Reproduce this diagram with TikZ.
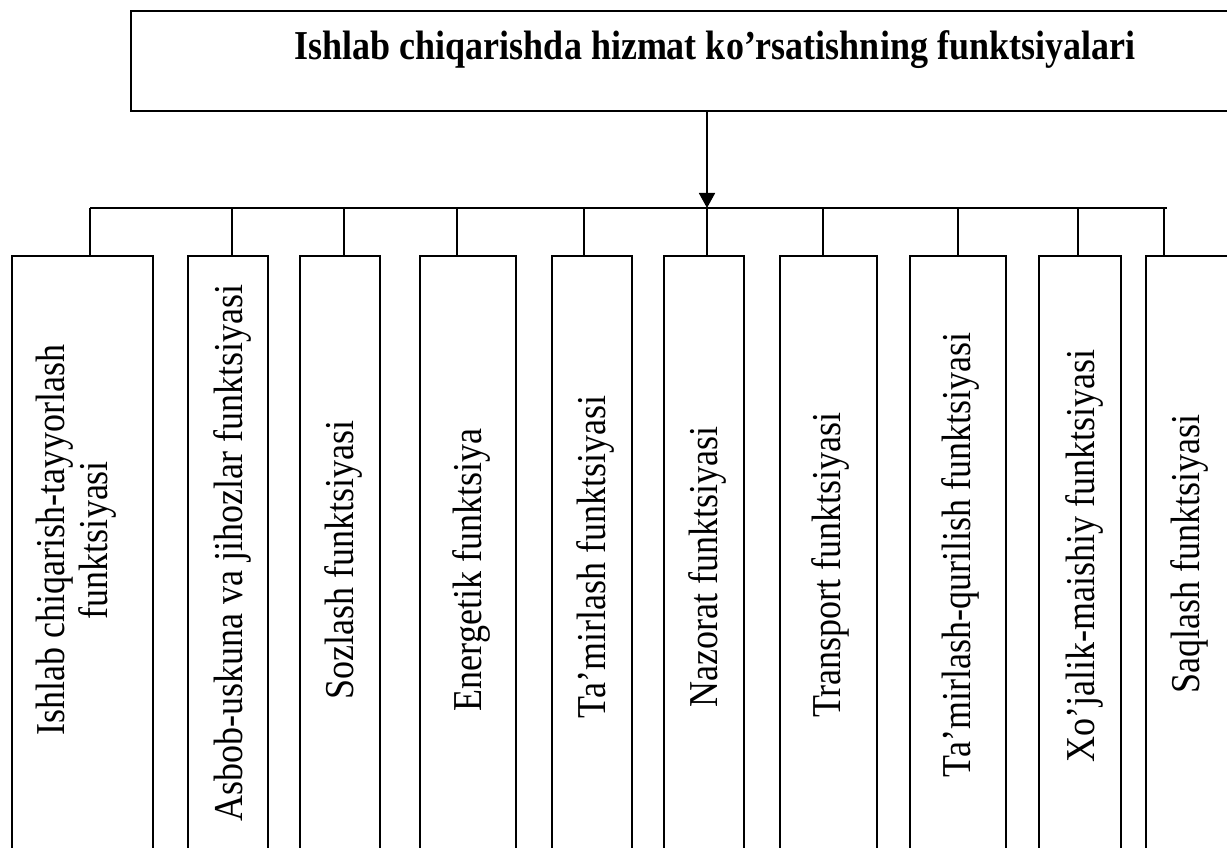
\documentclass[tikz,border=0pt]{standalone}
\usepackage{fontspec}
\usepackage{graphicx}
\setmainfont{Liberation Serif}
\usetikzlibrary{arrows.meta}
% glyphs are set slightly taller than the font's natural shape
\newcommand{\tallbox}[1]{\scalebox{1}[1.14]{#1}}
\begin{document}
\begin{tikzpicture}[x=1pt,y=-1pt,
  line width=1.8pt,
  frame/.style={draw, line width=1.8pt, inner sep=0pt, anchor=north west},
  vlabel/.style={rotate=90, font=\fontsize{36}{38}\selectfont, inner sep=0pt},
  title/.style={font=\fontsize{36}{43}\selectfont\bfseries, inner sep=0pt},
  arr/.style={-{Triangle[length=15pt,width=16pt]}}]
\useasboundingbox (0,0) rectangle (1227,848);
\fill[white] (0,0) rectangle (1227,848);
\clip (0,0) rectangle (1227,848);

% heading box (runs past the right edge)
\node[frame, minimum width=1170pt, minimum height=100pt] (top) at (130,10) {};
\node[title] (ttl) at (715,50) {\tallbox{Ishlab chiqarishda hizmat ko’rsatishning funktsiyalari}};

% distribution bus
\coordinate (busL) at (90,208);
\coordinate (busR) at (1167,208);
\coordinate (busC) at (707,208);
\draw (busL) -- (busR);
\draw[arr] (top.south -| busC) -- (busC);

% function boxes (open at the bottom edge of the sheet)
\foreach \n/\l/\r in {1/11/152, 2/187/267, 3/299/379, 4/419/515, 5/551/631,
                      6/663/743, 7/779/876, 8/909/1005, 9/1038/1120, 10/1145/1236}{
  \pgfmathsetmacro{\w}{\r-\l}
  \node[frame, minimum width=\w pt, minimum height=700pt] (b\n) at (\l,255) {};
}

% stubs from the bus down to each box
\foreach \n/\x in {1/90, 2/232, 3/344, 4/457, 5/584, 6/707, 7/823, 8/958, 9/1078, 10/1164}{
  \coordinate (s\n) at (\x,208);
  \draw (s\n) -- (s\n |- b\n.north);
}

% box captions
\node[vlabel] (t1) at (77,540) {\tallbox{\begin{tabular}{@{}c@{}}Ishlab chiqarish-tayyorlash\\funktsiyasi\end{tabular}}};
\node[vlabel] (t2) at (232,553) {\tallbox{Asbob-uskuna va jihozlar funktsiyasi}};
\node[vlabel] (t3) at (343,560) {\tallbox{Sozlash funktsiyasi}};
\node[vlabel] (t4) at (471,570) {\tallbox{Energetik funktsiya}};
\node[vlabel] (t5) at (595,557) {\tallbox{Ta’mirlash funktsiyasi}};
\node[vlabel] (t6) at (707,567) {\tallbox{Nazorat funktsiyasi}};
\node[vlabel] (t7) at (830,565) {\tallbox{Transport funktsiyasi}};
\node[vlabel] (t8) at (960,555) {\tallbox{Ta’mirlash-qurilish funktsiyasi}};
\node[vlabel] (t9) at (1084,556) {\tallbox{Xo’jalik-maishiy funktsiyasi}};
\node[vlabel] (t10) at (1189,554) {\tallbox{Saqlash funktsiyasi}};
\end{tikzpicture}
\end{document}
